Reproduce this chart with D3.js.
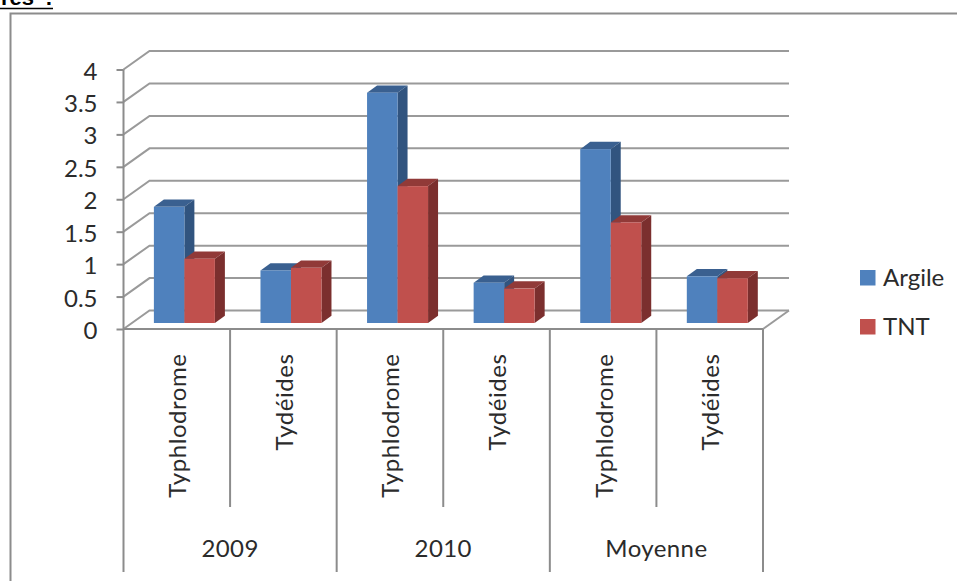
<!DOCTYPE html>
<html>
<head>
<meta charset="utf-8">
<script src="https://cdn.jsdelivr.net/npm/d3@7/dist/d3.min.js"></script>
<style>
	html, body { margin: 0; padding: 0; background: #fff; }
	svg { display: block; }
	text { font-family: Lato, "Open Sans", sans-serif; fill: #2b2b2b; }
</style>
</head>
<body>
<svg id="chart" width="957" height="581"></svg>
<script>
const years = ['2009', '2010', 'Moyenne'];
const taxa = ['Typhlodrome', 'Tydéides', 'Typhlodrome', 'Tydéides', 'Typhlodrome', 'Tydéides'];
const seriesNames = ['Argile', 'TNT'];
const argile = [1.79, 0.81, 3.55, 0.62, 2.68, 0.72];
const tnt = [0.99, 0.85, 2.11, 0.53, 1.55, 0.69];
const yTicks = [0, 0.5, 1, 1.5, 2, 2.5, 3, 3.5, 4];

const GREY = '#8c8c8c';
const colors = {
	Argile: {front: '#4f81bd', top: '#3a6090', side: '#31547f'},
	TNT: {front: '#c0504d', top: '#913a38', side: '#7b2f2e'}
};

const svg = d3.select('#chart');

// page fragment above the chart
svg.append('text')
	.attr('x', 1)
	.attr('y', 5)
	.attr('font-size', 22)
	.attr('font-weight', 700)
	.attr('word-spacing', 5)
	.style('fill', '#000')
	.style('font-family', '"Liberation Sans", sans-serif')
	.text('res :');
svg.append('line')
	.attr('x1', 0).attr('x2', 53)
	.attr('y1', 8.5).attr('y2', 8.5)
	.attr('stroke', '#000')
	.attr('stroke-width', 1.5);

// chart frame, runs off the picture on the right and at the bottom
svg.append('path')
	.attr('d', 'M10.5,581V13.5H957')
	.attr('fill', 'none')
	.attr('stroke', GREY)
	.attr('stroke-width', 2);

// 3D box: the wall sits up and to the right of the front axes
const left = 123.5, right = 763, floor = 329, top4 = 69.5;
const depth = {x: 26, y: -18.5};
const barDepth = {x: 10, y: -7.3};
const barShift = {x: 7.6, y: -6};

const y = d3.scaleLinear().domain([0, 4]).range([floor, top4]);
const x0 = d3.scaleBand().domain(d3.range(taxa.length)).range([left, right]);
const x1 = d3.scaleBand().domain(seriesNames).range([0, 61]);
const inset = (x0.bandwidth() - 61) / 2;

// gridlines on the wall + the slanted part on the side
const grid = svg.append('g');
yTicks.forEach(t => {
	grid.append('path')
		.attr('d', `M${left},${y(t)}L${left + depth.x},${y(t) + depth.y}H${right + depth.x}`)
		.attr('fill', 'none')
		.attr('stroke', '#9a9a9a')
		.attr('stroke-width', 2);
});
grid.append('line')
	.attr('x1', right).attr('y1', floor)
	.attr('x2', right + depth.x).attr('y2', floor + depth.y)
	.attr('stroke', '#9a9a9a')
	.attr('stroke-width', 2);

// y axis
const yAxis = d3.axisLeft(y)
	.tickValues(yTicks)
	.tickFormat(d => d)
	.tickSize(7)
	.tickPadding(19);
const yAxisG = svg.append('g')
	.attr('transform', `translate(${left},0)`)
	.call(yAxis);
yAxisG.select('.domain').remove();
yAxisG.selectAll('line').attr('stroke', GREY).attr('stroke-width', 2);
yAxisG.selectAll('text').attr('font-size', 24).attr('dy', '0.4em');
svg.append('line')
	.attr('x1', left).attr('x2', left)
	.attr('y1', top4).attr('y2', 572)
	.attr('stroke', GREY)
	.attr('stroke-width', 2);
svg.append('line')
	.attr('x1', left).attr('x2', right)
	.attr('y1', floor).attr('y2', floor)
	.attr('stroke', GREY)
	.attr('stroke-width', 2);

// bars, blue first so the red one covers its side
const barHeight = v => y(0) - y(v);
const bars = [];
taxa.forEach((t, i) => {
	bars.push({i, name: 'Argile', value: argile[i]});
	bars.push({i, name: 'TNT', value: tnt[i]});
});
const barG = svg.append('g').selectAll('g').data(bars).enter().append('g')
	.attr('transform', d => `translate(${x0(d.i) + inset + barShift.x + x1(d.name)},${barShift.y})`);
barG.append('path') // top
	.attr('d', d => {
		const w = x1.bandwidth(), t = y(d.value);
		return `M0,${t}l${barDepth.x},${barDepth.y}h${w}l${-barDepth.x},${-barDepth.y}z`;
	})
	.attr('fill', d => colors[d.name].top);
barG.append('path') // side
	.attr('d', d => {
		const w = x1.bandwidth(), t = y(d.value);
		return `M${w},${t}l${barDepth.x},${barDepth.y}V${y(0) + barDepth.y}l${-barDepth.x},${-barDepth.y}z`;
	})
	.attr('fill', d => colors[d.name].side);
barG.append('rect') // front
	.attr('x', 0)
	.attr('y', d => y(d.value))
	.attr('width', x1.bandwidth())
	.attr('height', d => barHeight(d.value))
	.attr('fill', d => colors[d.name].front);

// multi level category axis, labels hang from the top
const axisG = svg.append('g');
taxa.forEach((t, i) => {
	const cx = x0(i) + x0.bandwidth() / 2;
	axisG.append('text')
		.attr('transform', `translate(${cx + 9.5},353.5) rotate(-90)`)
		.attr('text-anchor', 'end')
		.attr('font-size', 24)
		.attr('letter-spacing', 0.55)
		.text(t);
	const sep = x0(i) + x0.bandwidth();
	axisG.append('line')
		.attr('x1', sep).attr('x2', sep)
		.attr('y1', floor).attr('y2', (i % 2 === 1) ? 572 : 507)
		.attr('stroke', GREY)
		.attr('stroke-width', 2);
});
years.forEach((yr, i) => {
	axisG.append('text')
		.attr('x', x0(i * 2 + 1))
		.attr('y', 557)
		.attr('text-anchor', 'middle')
		.attr('font-size', 24)
		.attr('letter-spacing', 0.4)
		.text(yr);
});

// legend
const legendY = d3.scalePoint().domain(seriesNames).range([270, 319]);
const legend = svg.append('g').selectAll('g').data(seriesNames).enter().append('g')
	.attr('transform', d => `translate(860,${legendY(d)})`);
legend.append('rect')
	.attr('width', 15.5)
	.attr('height', 15.5)
	.attr('fill', d => colors[d].front);
legend.append('text')
	.attr('x', 23)
	.attr('y', 15.5)
	.attr('font-size', 24)
	.text(d => d);
</script>
</body>
</html>
